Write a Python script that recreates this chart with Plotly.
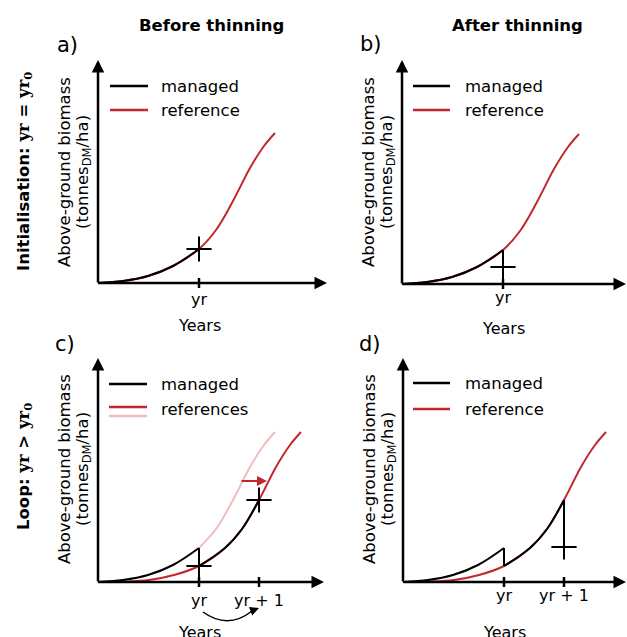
import plotly.graph_objects as go

# ---------------- data (schematic units: years axis / biomass axis) ----------------
years_ref = [0, 25, 50, 75, 101, 118, 135, 152, 166, 177]
biomass_ref = [0, 2, 7, 17, 34, 53, 82, 115, 137, 150]

years_shift = [0, 26, 51, 76, 101, 127, 144, 161, 178, 192, 203]
biomass_shift = [0, 0.4, 2, 7, 16, 34, 53, 82, 115, 137, 150]

yr = 101
yr_next = 161
managed_after_b = 17      # managed biomass after thinning at yr (panel b)
managed_after_d = 35      # managed biomass after thinning at yr+1 (panel d)

tick_labels_1 = ["yr"]
tick_labels_2 = ["yr", "yr + 1"]

RED = "#c1272d"
PINK = "#f0bcbc"
FONT = "DejaVu Sans"

fig = go.Figure()

ax = {"a": ("x", "y"), "b": ("x2", "y2"), "c": ("x3", "y3"), "d": ("x4", "y4")}


def line(panel, xs, ys, color, width=2, shape="spline"):
    xa, ya = ax[panel]
    fig.add_trace(go.Scatter(x=xs, y=ys, mode="lines", xaxis=xa, yaxis=ya,
                             line=dict(color=color, width=width, shape=shape, smoothing=1.0),
                             showlegend=False, hoverinfo="skip"))


def cross(panel, x, y):
    xa, ya = ax[panel]
    fig.add_trace(go.Scatter(x=[x], y=[y], mode="markers", xaxis=xa, yaxis=ya,
                             marker=dict(symbol="cross-thin", size=18, color="black",
                                         line=dict(color="black", width=2)),
                             showlegend=False, hoverinfo="skip"))


def upto(xs, ys, xmax):
    return [x for x in xs if x <= xmax], [y for x, y in zip(xs, ys) if x <= xmax]


def between(xs, ys, xmin, xmax):
    return ([x for x in xs if xmin <= x <= xmax],
            [y for x, y in zip(xs, ys) if xmin <= x <= xmax])


# ---- panel a ----
line("a", years_ref, biomass_ref, RED)
mx, my = upto(years_ref, biomass_ref, yr)
line("a", mx, my, "black")
cross("a", yr, my[-1])

# ---- panel b ----
line("b", years_ref, biomass_ref, RED)
line("b", mx, my, "black")
line("b", [yr, yr], [my[-1], managed_after_b], "black", shape="linear")
cross("b", yr, managed_after_b)

# ---- panel c ----
px_, py_ = between(years_ref, biomass_ref, yr, 999)
line("c", px_, py_, PINK)
line("c", years_shift, biomass_shift, RED)
line("c", mx, my, "black")
sx, sy = between(years_shift, biomass_shift, yr, yr_next)
line("c", [yr, yr], [my[-1], sy[0]], "black", shape="linear")
line("c", sx, sy, "black")
cross("c", yr, sy[0])
cross("c", yr_next, sy[-1])

# ---- panel d ----
line("d", years_shift, biomass_shift, RED)
line("d", mx, my, "black")
line("d", [yr, yr], [my[-1], sy[0]], "black", shape="linear")
line("d", sx, sy, "black")
line("d", [yr_next, yr_next], [sy[-1], managed_after_d], "black", shape="linear")
cross("d", yr_next, managed_after_d)

# ---------------- layout ----------------
W, H = 627, 637
split_x = 313 / W

# top row panels span pixel rows 0..345, bottom row 300..637 (overlap is harmless)
top_dom = [1 - 345 / H, 1]
bot_dom = [0, 1 - 300 / H]

layout = dict(width=W, height=H, margin=dict(l=0, r=0, t=0, b=0),
              paper_bgcolor="white", plot_bgcolor="rgba(0,0,0,0)", showlegend=False)

axes_cfg = {
    "a": dict(xd=[0, split_x], yd=top_dom, xr=[-98, 215], yr=[283 - 345, 283]),
    "b": dict(xd=[split_x, 1], yd=top_dom, xr=[-89, 225], yr=[284 - 345, 284]),
    "c": dict(xd=[0, split_x], yd=bot_dom, xr=[-98, 215], yr=[-55, 582 - 300]),
    "d": dict(xd=[split_x, 1], yd=bot_dom, xr=[-90, 224], yr=[-55, 582 - 300]),
}
for p, cfg in axes_cfg.items():
    xa, ya = ax[p]
    xk = "xaxis" + xa[1:]
    yk = "yaxis" + ya[1:]
    layout[xk] = dict(domain=cfg["xd"], range=cfg["xr"], visible=False, fixedrange=True,
                      anchor=ya)
    layout[yk] = dict(domain=cfg["yd"], range=cfg["yr"], visible=False, fixedrange=True,
                      anchor=xa)
fig.update_layout(**layout)

annotations = []
shapes = []


def text(panel, x, y, s, size=16.5, angle=0, xanchor="center", bold=False, family=FONT):
    xa, ya = ax[panel]
    annotations.append(dict(x=x, y=y, xref=xa, yref=ya, text=s, showarrow=False,
                            textangle=angle, xanchor=xanchor, yanchor="middle",
                            font=dict(family=family, size=size, color="black")))


def arrow(panel, x0, y0, x1, y1, color="black", width=2.5, head=2, size=1.0):
    xa, ya = ax[panel]
    annotations.append(dict(x=x1, y=y1, ax=x0, ay=y0, xref=xa, yref=ya, axref=xa, ayref=ya,
                            text="", showarrow=True, arrowhead=head, arrowsize=size,
                            arrowwidth=width, arrowcolor=color, standoff=0, startstandoff=0,
                            font=dict(size=10)))


def seg(panel, x0, y0, x1, y1, color="black", width=2.5):
    xa, ya = ax[panel]
    shapes.append(dict(type="line", xref=xa, yref=ya, x0=x0, y0=y0, x1=x1, y1=y1,
                       line=dict(color=color, width=width)))


# axes with arrows
axis_tips = {"a": (229, 223), "b": (224, 224), "c": (226, 224), "d": (223, 224)}
for p, (xt, ytip) in axis_tips.items():
    arrow(p, -1, 0, xt, 0)
    arrow(p, 0, -1, 0, ytip)

# ticks and tick labels
tick_label_y = {"a": -16, "b": -13, "c": -18, "d": -13}
years_label_y = {"a": -42, "b": -44, "c": -50, "d": -50}
for p in ["a", "b"]:
    for v, lab in zip([yr], tick_labels_1):
        seg(p, v, -5, v, 5, width=2.5)
        text(p, v, tick_label_y[p], lab, size=16)
for p in ["c", "d"]:
    for v, lab in zip([yr, yr_next], tick_labels_2):
        seg(p, v, -5, v, 5, width=2.5)
        text(p, v, tick_label_y[p], lab, size=16)
for p in "abcd":
    text(p, 101, years_label_y[p], "Years", size=16)

# y-axis titles
ymid = {"a": 111, "b": 112, "c": 113, "d": 113}
for p in "abcd":
    text(p, -34, ymid[p], "Above-ground biomass", size=16.5, angle=-90)
    text(p, -15, ymid[p], "(tonnes<sub>DM</sub>/ha)", size=16.5, angle=-90)

# legends
leg = {
    "a": [(197, "black", "managed"), (173, RED, "reference")],
    "b": [(198, "black", "managed"), (174, RED, "reference")],
    "c": [(198, "black", "managed"), (173, RED, "references")],
    "d": [(199, "black", "managed"), (173, RED, "reference")],
}
leg_x = {"a": (12, 50, 61), "b": (11, 48, 61), "c": (11, 49, 61), "d": (10, 47, 60)}
for p, items in leg.items():
    x0, x1, xt = leg_x[p]
    for yy, col, lab in items:
        ly = yy + (2 if p == "c" and col == RED else 0)
        seg(p, x0, ly, x1, ly, color=col, width=2.5)
        text(p, xt, yy, lab, size=16.5, xanchor="left")
seg("c", 11, 166, 49, 166, color=PINK, width=2.5)

# panel c arrows
arrow("c", 142, 101, 169, 101, color=RED, width=2, head=2, size=1.0)
xa3, ya3 = ax["c"]
shapes.append(dict(type="path", xref=xa3, yref=ya3,
                   path="M 105,-30 Q 130,-48 154,-29",
                   line=dict(color="black", width=1.5)))
arrow("c", 152, -29.5, 161, -26, color="black", width=1.5, head=2, size=1.2)

# panel letters
text("a", -31, 238, "a)", size=21)
text("b", -31, 240, "b)", size=21)
text("c", -33, 238, "c)", size=21)
text("d", -33, 238, "d)", size=21)

# column titles
text("a", 113, 258, "<b>Before thinning</b>", size=16.5)
text("b", 115, 259, "<b>After thinning</b>", size=16.5)

# row titles
SERIF = "<span style='font-family:DejaVu Serif'>"
text("a", -74, 111,
     "<b>Initialisation: " + SERIF + "yr</span> = " + SERIF + "yr<sub>0</sub></span></b>",
     size=16.5, angle=-90)
text("c", -74, 115,
     "<b>Loop: " + SERIF + "yr</span> &gt; " + SERIF + "yr<sub>0</sub></span></b>",
     size=16.5, angle=-90)

fig.update_layout(annotations=annotations, shapes=shapes)
fig.write_html("out.html",
               config={"displayModeBar": False},
               post_script="document.body.style.margin='0';document.body.style.overflow='hidden';")
